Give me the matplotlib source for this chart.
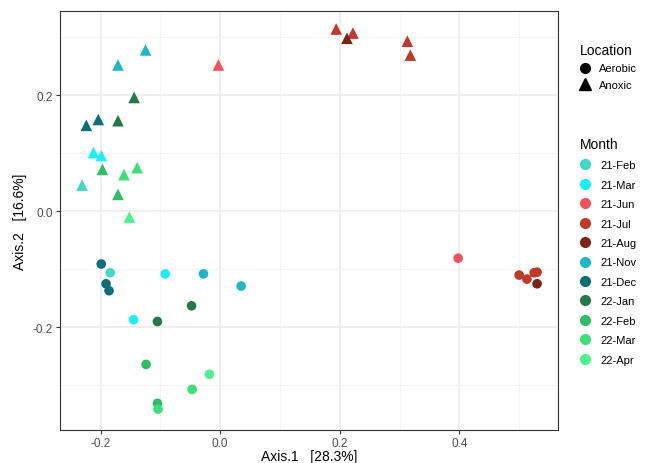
import matplotlib.pyplot as plt
from matplotlib.lines import Line2D

plt.rcParams['font.family'] = ['Liberation Sans', 'DejaVu Sans']

months = ['21-Feb', '21-Mar', '21-Jun', '21-Jul', '21-Aug', '21-Nov', '21-Dec',
          '22-Jan', '22-Feb', '22-Mar', '22-Apr']
colors = ['#3FD9C4', '#1AEFFF', '#F5525A', '#C0392B', '#7B2418', '#1CB8C8',
          '#0E6E78', '#217A47', '#2EBE63', '#3BE07A', '#4BF38A']

# anoxic (triangles)
tri_month = ['21-Nov', '21-Nov', '21-Jun', '22-Jan', '22-Jan', '21-Dec', '21-Dec',
             '21-Mar', '21-Mar', '22-Feb', '22-Feb', '22-Mar', '22-Mar', '21-Feb',
             '22-Apr', '21-Jul', '21-Jul', '21-Jul', '21-Jul', '21-Aug']
tri_x = [-0.125, -0.171, -0.003, -0.144, -0.171, -0.224, -0.204, -0.212, -0.199,
         -0.197, -0.171, -0.161, -0.139, -0.231, -0.152, 0.194, 0.222, 0.313, 0.318, 0.212]
tri_y = [0.278, 0.252, 0.252, 0.196, 0.156, 0.148, 0.158, 0.101, 0.096,
         0.072, 0.029, 0.063, 0.075, 0.045, -0.010, 0.314, 0.307, 0.293, 0.269, 0.298]

# aerobic (circles)
cir_month = ['21-Dec', '21-Dec', '21-Dec', '21-Feb', '21-Mar', '21-Mar', '21-Nov', '21-Nov',
             '22-Jan', '22-Jan', '22-Feb', '22-Feb', '22-Mar', '22-Mar', '22-Apr', '21-Jun',
             '21-Jul', '21-Jul', '21-Jul', '21-Jul', '21-Aug']
cir_x = [-0.199, -0.191, -0.186, -0.184, -0.092, -0.145, -0.028, 0.035,
         -0.048, -0.105, -0.124, -0.105, -0.104, -0.047, -0.018, 0.398,
         0.500, 0.513, 0.525, 0.530, 0.530]
cir_y = [-0.091, -0.125, -0.137, -0.106, -0.108, -0.187, -0.108, -0.129,
         -0.163, -0.190, -0.264, -0.331, -0.341, -0.307, -0.281, -0.081,
         -0.110, -0.117, -0.106, -0.105, -0.125]

cmap = dict(zip(months, colors))

fig = plt.figure(figsize=(6.5, 4.64), dpi=100)
ax = fig.add_axes([60 / 650, 33 / 464, 498 / 650, 419 / 464])

ax.scatter(cir_x, cir_y, c=[cmap[m] for m in cir_month], marker='o', s=48, zorder=3, linewidths=0)
ax.scatter(tri_x, tri_y, c=[cmap[m] for m in tri_month], marker='^', s=70, zorder=3, linewidths=0)

ax.set_xlim(-0.268, 0.565)
ax.set_ylim(-0.377, 0.345)
ax.set_xticks([-0.2, 0.0, 0.2, 0.4])
ax.set_yticks([-0.2, 0.0, 0.2])
ax.set_xticklabels(['-0.2', '0.0', '0.2', '0.4'])
ax.set_yticklabels(['-0.2', '0.0', '0.2'])
ax.set_xticks([-0.1, 0.1, 0.3, 0.5], minor=True)
ax.set_yticks([-0.3, -0.1, 0.1, 0.3], minor=True)
ax.grid(True, which='major', color='#EBEBEB', linewidth=1.1)
ax.grid(True, which='minor', color='#F3F3F3', linewidth=0.6)
ax.set_axisbelow(True)
ax.tick_params(which='minor', length=0)
ax.tick_params(which='major', length=3, pad=2, color='#333333', labelsize=8.5, labelcolor='#4D4D4D')
for s in ax.spines.values():
    s.set_color('#333333')
    s.set_linewidth(0.8)
ax.set_xlabel('Axis.1   [28.3%]', fontsize=10, labelpad=0)
ax.set_ylabel('Axis.2   [16.6%]', fontsize=10)

loc_handles = [Line2D([], [], marker='o', ls='', color='black', markersize=7),
               Line2D([], [], marker='^', ls='', color='black', markersize=8)]
fig.legend(loc_handles, ['Aerobic', 'Anoxic'], title='Location', loc='upper left',
           bbox_to_anchor=(572 / 650, 1 - 36 / 464), frameon=False, fontsize=8,
           title_fontsize=10, handlelength=1.0, handletextpad=0.7, alignment='left',
           labelspacing=0.6, borderpad=0.2)
month_handles = [Line2D([], [], marker='o', ls='', color=c, markersize=7) for c in colors]
fig.legend(month_handles, months, title='Month', loc='upper left',
           bbox_to_anchor=(572 / 650, 1 - 130 / 464), frameon=False, fontsize=8,
           title_fontsize=10, handlelength=1.0, handletextpad=0.9, alignment='left',
           labelspacing=0.85, borderpad=0.2)

fig.savefig('out.png', dpi=100)
